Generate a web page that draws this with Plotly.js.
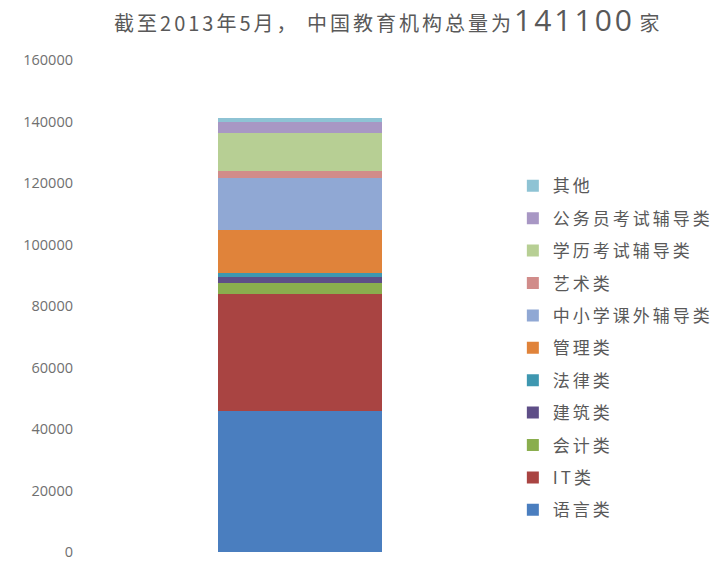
<!DOCTYPE html>
<html>
<head>
<meta charset="utf-8">
<script src="https://cdn.plot.ly/plotly-3.0.1.min.js"></script>
<style>html,body{margin:0;padding:0;background:#fff;}#chart{width:727px;height:561px;}</style>
</head>
<body>
<div id="chart"></div>
<script>
var category = ['2013年5月'];
var seriesNames = ['语言类','IT类','会计类','建筑类','法律类','管理类','中小学课外辅导类','艺术类','学历考试辅导类','公务员考试辅导类','其他'];
var seriesValues = [45800, 38100, 3500, 1900, 1300, 14200, 16800, 2300, 12300, 3500, 1400];
var seriesColors = ['#4A7EBF','#A94442','#8AAE4E','#5E4E87','#3E97B0','#E0833A','#90A8D4','#D18C8A','#B7CF94','#A897C4','#8EC3D4'];
var yTicks = [0,20000,40000,60000,80000,100000,120000,140000,160000];
var totalLabel = '141100';

var traces = seriesNames.map(function(n,i){
  return {
    type:'bar', name:'<span style="letter-spacing:3px">'+n+'</span>', x:category, y:[seriesValues[i]],
    marker:{color:seriesColors[i], line:{width:0}},
    width:0.38, legendgroup:'g'+i, legendrank:1000-i*10, hoverinfo:'y'
  };
});

var layout = {
  width:727, height:561,
  margin:{l:85, r:212, t:60, b:9},
  paper_bgcolor:'#fff', plot_bgcolor:'#fff',
  barmode:'stack',
  font:{family:'"Noto Sans CJK SC", "Noto Sans", sans-serif', color:'#595959'},
  title:{
    text:'<span style="letter-spacing:3px">截至2013年5月， 中国教育机构总量为</span><span style="font-size:30px;letter-spacing:3px;font-family:Open Sans, Noto Sans, sans-serif">'+totalLabel+'</span> 家',
    x:0.532, xref:'container', xanchor:'center',
    y:0.958, yref:'container', yanchor:'middle',
    font:{size:20, color:'#595959', family:'"Noto Sans CJK SC", sans-serif'}
  },
  xaxis:{range:[-0.5,0.5], showticklabels:false, showgrid:false, zeroline:false, showline:false, ticks:'', fixedrange:true},
  yaxis:{range:[0,160000], tickvals:yTicks, ticktext:yTicks.map(String), showgrid:false, zeroline:false, showline:false, ticks:'',
    ticklabeloverflow:'allow',
    tickfont:{size:14.5, color:'#707070', family:'"Open Sans", "DejaVu Sans", sans-serif'}, ticklabelstandoff:11},
  legend:{
    x:0.995, xanchor:'left', y:0.78, yanchor:'top',
    traceorder:'grouped', tracegroupgap:7.3,
    font:{size:17, color:'#595959', family:'"Noto Sans CJK SC", sans-serif'},
    itemwidth:30, bgcolor:'rgba(0,0,0,0)'
  },
  showlegend:true
};

Plotly.newPlot('chart', traces, layout, {displayModeBar:false, staticPlot:true});
</script>
</body>
</html>
